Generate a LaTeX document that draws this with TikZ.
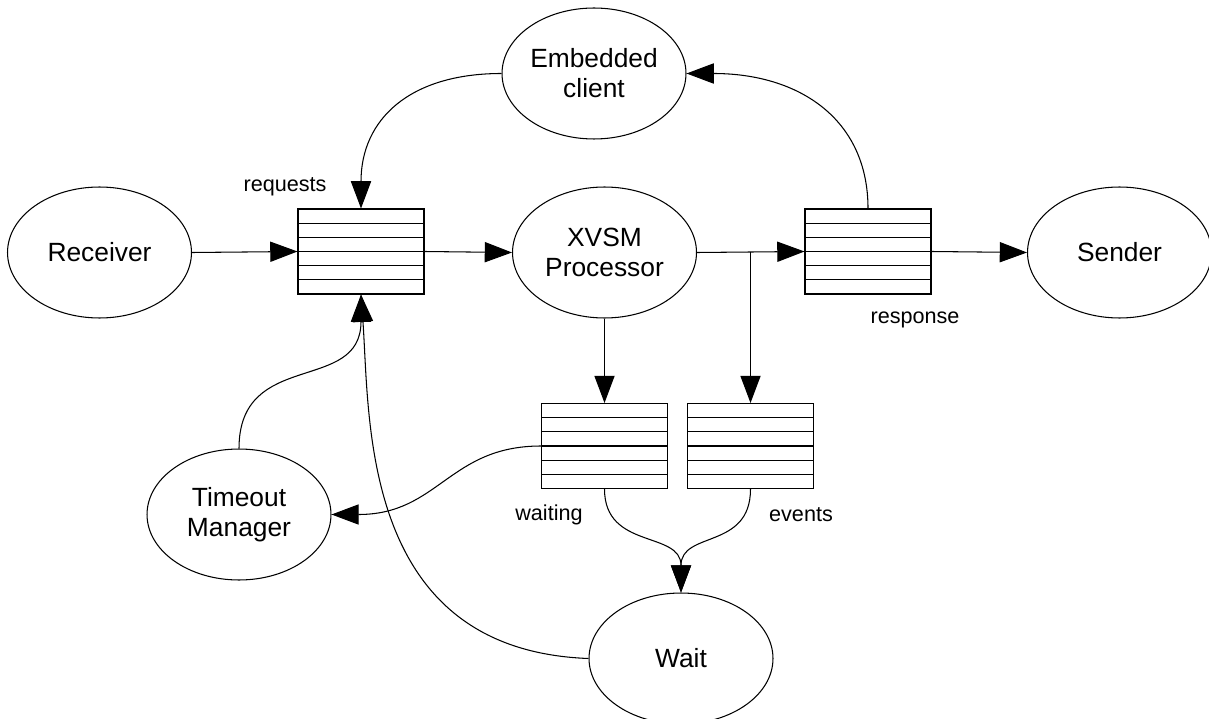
\documentclass[tikz,border=0pt]{standalone}
\usepackage{fontspec}
\setmainfont{Liberation Sans}
\usetikzlibrary{arrows.meta,calc,shapes.geometric}

\tikzset{
  proc/.style={ellipse, draw, line width=0.6pt, minimum width=3.68cm, minimum height=2.62cm,
               inner sep=0pt, align=center, font=\fontsize{15}{17}\selectfont},
  queue/.style={draw, line width=0.6pt, minimum width=2.52cm, minimum height=1.7cm, inner sep=0pt,
    path picture={
      \foreach \k in {1,...,5}
        \draw[line width=0.6pt] ($(path picture bounding box.north west)!\k/6!(path picture bounding box.south west)$) -- ++(2.6cm,0);
    }},
  qlabel/.style={font=\fontsize{12.3}{14}\selectfont, inner sep=0pt},
  flow/.style={line width=0.6pt, -{Triangle[length=15.5pt,width=11.5pt]}}
}

\begin{document}
\begin{tikzpicture}[x=0.02cm,y=-0.02cm]
  \useasboundingbox (0,0) rectangle (1209,719);

  % processes
  \node[proc] (rcv) at (99.5,252.5) {Receiver};
  \node[proc] (emb) at (594,73.5) {Embedded\\client};
  \node[proc] (xvsm) at (604.5,252.5) {XVSM\\Processor};
  \node[proc] (snd) at (1119.5,252.5) {Sender};
  \node[proc] (tmo) at (239,514.5) {Timeout\\Manager};
  \node[proc] (wai) at (681,658.5) {Wait};

  % queues
  \node[queue] (req) at (361,251.5) {};
  \node[queue] (rsp) at (868,251.5) {};
  \node[queue] (wtq) at (604.5,446) {};
  \node[queue] (evq) at (750.5,446) {};

  % queue labels
  \node[qlabel] (reqlbl) at (285,187) {requests};
  \node[qlabel] (rsplbl) at (915,320) {response};
  \node[qlabel] (wtlbl) at (549,515) {waiting};
  \node[qlabel] (evlbl) at (801,515) {events};

  % straight flows
  \draw[flow] (rcv.east) -- (req.west);
  \draw[flow] (req.east) -- (xvsm.west);
  \draw[flow] (xvsm.east) -- (rsp.west);
  \coordinate (split) at (evq.north |- xvsm.east);
  \draw[flow] (split) -- (evq.north);
  \draw[flow] (xvsm.south) -- (wtq.north);
  \draw[flow] (rsp.east) -- (snd.west);

  % curved flows
  \draw[flow] (emb.west) .. controls +(-92,0) and +(0,-89) .. (req.north);
  \draw[flow] (rsp.north) .. controls +(0,-89) and +(113,0) .. (emb.east);
  \draw[flow] (tmo.north) .. controls +(0,-100) and +(0,100) .. (req.south);
  \draw[flow] (wai.west) .. controls (360,650) and (370,420) .. (req.south);
  \draw[flow] (wtq.west) .. controls +(-92,0) and +(107,0) .. (tmo.east);
  \draw[flow] (wtq.south) .. controls +(0,61) and +(0,-62) .. (wai.north);
  \draw[flow] (evq.south) .. controls +(0,61) and +(0,-62) .. (wai.north);
\end{tikzpicture}
\end{document}
